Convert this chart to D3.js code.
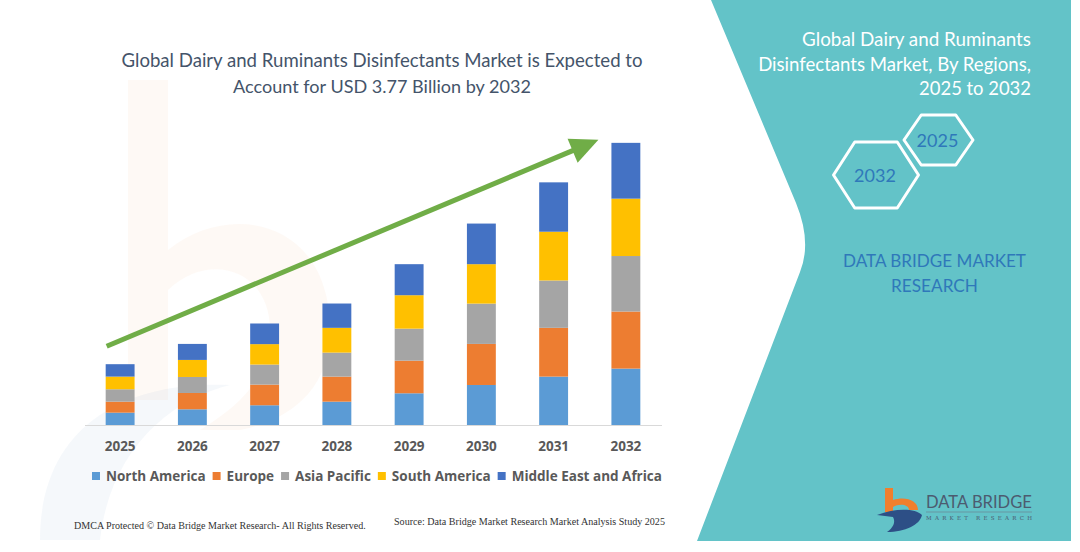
<!DOCTYPE html>
<html>
<head>
<meta charset="utf-8">
<script src="https://cdn.jsdelivr.net/npm/d3@7"></script>
<style>
  html, body { margin: 0; padding: 0; background: #fff; }
  svg { display: block; }
</style>
</head>
<body>
<div id="chart"></div>
<script>
// ---- data (USD billion) ----
var years = ["2025", "2026", "2027", "2028", "2029", "2030", "2031", "2032"];
var regions = ["North America", "Europe", "Asia Pacific", "South America", "Middle East and Africa"];
var regionColors = ["#5B9BD5", "#ED7D31", "#A5A5A5", "#FFC000", "#4472C4"];

var northAmerica = [0.165, 0.210, 0.264, 0.312, 0.424, 0.535, 0.647, 0.754];
var europe       = [0.147, 0.218, 0.276, 0.335, 0.436, 0.549, 0.652, 0.763];
var asiaPacific  = [0.166, 0.214, 0.268, 0.321, 0.428, 0.539, 0.633, 0.742];
var southAmerica = [0.169, 0.228, 0.273, 0.331, 0.447, 0.527, 0.652, 0.767];
var middleEast   = [0.166, 0.214, 0.276, 0.325, 0.415, 0.543, 0.660, 0.746];

var titleLines = ["Global Dairy and Ruminants Disinfectants Market is Expected to",
                  "Account for USD 3.77 Billion by 2032"];
var sideLines = ["Global Dairy and Ruminants", "Disinfectants Market, By Regions,", "2025 to 2032"];

var W = 1080, H = 552;

var svg = d3.select("#chart").append("svg")
    .attr("width", W)
    .attr("height", H);

// shrink / grow a text's font size so it spans the given width
function fitWidth(sel, target) {
    sel.each(function() {
        var fs = parseFloat(d3.select(this).attr("font-size"));
        var len = this.getComputedTextLength();
        if (len > 0) d3.select(this).attr("font-size", (fs * target / len).toFixed(2));
    });
}

// ---- faint logo watermark behind the chart ----
var wm = svg.append("g").attr("class", "watermark");
wm.append("path")
    .attr("d", "M128,80 L168,80 L168,250 C230,200 330,220 330,330 C330,390 290,420 240,430 L200,430 C250,400 270,370 270,330 C270,270 210,250 168,290 L168,400 L128,400 Z")
    .attr("fill", "#F4B183").attr("opacity", 0.08);
wm.append("path")
    .attr("d", "M40,540 C40,430 120,380 230,385 C170,400 110,450 100,540 Z")
    .attr("fill", "#9DB7D5").attr("opacity", 0.1);

// ---- teal side panel ----
svg.append("path")
    .attr("d", "M711,0 L796,203 Q812,242 800,272 L697,541 L1071,541 L1071,0 Z")
    .attr("fill", "#63C3C8");

var side = svg.append("g").attr("class", "side");
side.selectAll("text.side-title")
    .data(sideLines)
    .enter()
    .append("text")
    .attr("class", "side-title")
    .attr("x", 1031)
    .attr("y", function(d, i) { return 46 + i * 24.5; })
    .attr("text-anchor", "end")
    .attr("font-family", "Lato")
    .attr("font-size", 18)
    .attr("fill", "#ffffff")
    .text(function(d) { return d; })
    .each(function(d, i) { fitWidth(d3.select(this), [229, 273, 112][i]); });

// hexagons with years
var hexes = [
    { label: "2025", cx: 938.5, cy: 140, w: 69, h: 50 },
    { label: "2032", cx: 876, cy: 175, w: 85, h: 66 }
];
var hexG = side.selectAll("g.hex")
    .data(hexes)
    .enter()
    .append("g")
    .attr("class", "hex");
hexG.append("path")
    .attr("d", function(d) {
        var pts = [
            [d.cx - d.w / 2, d.cy], [d.cx - d.w / 4, d.cy - d.h / 2], [d.cx + d.w / 4, d.cy - d.h / 2],
            [d.cx + d.w / 2, d.cy], [d.cx + d.w / 4, d.cy + d.h / 2], [d.cx - d.w / 4, d.cy + d.h / 2]
        ];
        return "M" + pts.join("L") + "Z";
    })
    .attr("fill", "none")
    .attr("stroke", "#ffffff")
    .attr("stroke-width", 3)
    .attr("stroke-linejoin", "round");
hexG.append("text")
    .attr("x", function(d) { return d.cx - 1; })
    .attr("y", function(d) { return d.cy + 7; })
    .attr("text-anchor", "middle")
    .attr("font-family", "Lato")
    .attr("font-size", 18)
    .attr("fill", "#2F78BA")
    .text(function(d) { return d.label; });

side.selectAll("text.dbmr")
    .data(["DATA BRIDGE MARKET", "RESEARCH"])
    .enter()
    .append("text")
    .attr("class", "dbmr")
    .attr("x", 934.5)
    .attr("y", function(d, i) { return 267 + i * 25; })
    .attr("text-anchor", "middle")
    .attr("font-family", "Lato")
    .attr("font-size", 18)
    .attr("fill", "#2F78BA")
    .text(function(d) { return d; })
    .each(function(d, i) { fitWidth(d3.select(this), [183, 87][i]); });

// logo bottom right
var logo = svg.append("g").attr("class", "logo");
logo.append("path")
    .attr("d", "M885,488 L893,488 L893,500 C905,496 918,500 918,510 L909,510 C909,505 900,503 893,507 L893,512 L885,512 Z")
    .attr("fill", "#F07F2D");
logo.append("path")
    .attr("d", "M877,515 C895,508 915,508 922,515 C920,525 905,532 887,532 C893,528 896,522 893,517 Z")
    .attr("fill", "#2D4F86");
logo.append("text")
    .attr("x", 926).attr("y", 508)
    .attr("font-family", "Lato").attr("font-size", 18)
    .attr("fill", "#4C5B70")
    .text("DATA BRIDGE")
    .call(fitWidth, 106);
logo.append("line")
    .attr("x1", 926).attr("x2", 1032).attr("y1", 512).attr("y2", 512)
    .attr("stroke", "#6b7b8c").attr("stroke-width", 0.6);
logo.append("text")
    .attr("x", 926).attr("y", 520)
    .attr("font-family", "DejaVu Serif").attr("font-size", 5.5)
    .attr("textLength", 106).attr("lengthAdjust", "spacing")
    .attr("fill", "#4C5B70")
    .text("MARKET RESEARCH");

// ---- title ----
svg.selectAll("text.title")
    .data(titleLines)
    .enter()
    .append("text")
    .attr("class", "title")
    .attr("x", 382)
    .attr("y", function(d, i) { return 67 + i * 26; })
    .attr("text-anchor", "middle")
    .attr("font-family", "Lato")
    .attr("font-size", 18)
    .attr("fill", "#44546A")
    .text(function(d) { return d; })
    .each(function(d, i) { fitWidth(d3.select(this), [521, 298][i]); });

// ---- stacked bars ----
var table = years.map(function(yr, i) {
    return {
        year: yr,
        "North America": northAmerica[i],
        "Europe": europe[i],
        "Asia Pacific": asiaPacific[i],
        "South America": southAmerica[i],
        "Middle East and Africa": middleEast[i]
    };
});
var stacked = d3.stack().keys(regions)(table);
var totals = table.map(function(d) { return d3.sum(regions, function(k) { return d[k]; }); });

var x = d3.scaleBand()
    .domain(years)
    .range([84, 662])
    .paddingInner(0.6)
    .paddingOuter(0.3);

var y = d3.scaleLinear()
    .domain([0, 3.77])
    .range([425, 143]);

var color = d3.scaleOrdinal().domain(regions).range(regionColors);

svg.append("g")
    .attr("class", "bars")
    .selectAll("g")
    .data(stacked)
    .enter()
    .append("g")
    .attr("fill", function(d) { return color(d.key); })
    .selectAll("rect")
    .data(function(d) { return d; })
    .enter()
    .append("rect")
    .attr("x", function(d) { return x(d.data.year); })
    .attr("y", function(d) { return y(d[1]); })
    .attr("width", x.bandwidth())
    .attr("height", function(d) { return y(d[0]) - y(d[1]); });

// baseline
svg.append("line")
    .attr("x1", 85).attr("x2", 662)
    .attr("y1", y(0) + 0.5).attr("y2", y(0) + 0.5)
    .attr("stroke", "#D9D9D9").attr("stroke-width", 1);

// year labels
var xAxis = svg.append("g")
    .attr("transform", "translate(0," + y(0) + ")")
    .call(d3.axisBottom(x).tickSize(0).tickPadding(16));
xAxis.select(".domain").remove();
xAxis.selectAll("text")
    .attr("font-family", "Open Sans")
    .attr("font-weight", "bold")
    .attr("font-size", 13.5)
    .attr("fill", "#595959");

// ---- growth arrow ----
var a0 = [x(years[0]) + 1, y(totals[0]) - 18];
var a1 = [x(years[years.length - 1]) - 13, y(totals[totals.length - 1]) - 3];
var dx = a1[0] - a0[0], dy = a1[1] - a0[1];
var len = Math.sqrt(dx * dx + dy * dy);
var ux = dx / len, uy = dy / len;
var headLen = 28, headHalf = 13;
var base = [a1[0] - ux * headLen, a1[1] - uy * headLen];
svg.append("line")
    .attr("x1", a0[0]).attr("y1", a0[1])
    .attr("x2", base[0] + ux * 2).attr("y2", base[1] + uy * 2)
    .attr("stroke", "#70AD47")
    .attr("stroke-width", 5);
svg.append("path")
    .attr("d", "M" + a1[0] + "," + a1[1] +
        "L" + (base[0] - uy * headHalf) + "," + (base[1] + ux * headHalf) +
        "L" + (base[0] + uy * headHalf) + "," + (base[1] - ux * headHalf) + "Z")
    .attr("fill", "#70AD47");

// ---- legend ----
var legend = svg.append("g").attr("class", "legend");
var lx = 92;
regions.forEach(function(r, i) {
    legend.append("rect")
        .attr("x", lx).attr("y", 472)
        .attr("width", 8).attr("height", 8)
        .attr("fill", regionColors[i]);
    var t = legend.append("text")
        .attr("x", lx + 14).attr("y", 481)
        .attr("font-family", "Open Sans")
        .attr("font-weight", "bold")
        .attr("font-size", 13.5)
        .attr("fill", "#595959")
        .text(r);
    lx += 14 + t.node().getComputedTextLength() + 7;
});

// ---- footer ----
svg.append("text")
    .attr("x", 74).attr("y", 529)
    .attr("font-family", "Liberation Serif")
    .attr("font-size", 10)
    .attr("fill", "#333")
    .text("DMCA Protected \u00A9 Data Bridge Market Research-  All Rights Reserved.")
    .call(fitWidth, 292);
svg.append("text")
    .attr("x", 394).attr("y", 525)
    .attr("font-family", "Liberation Serif")
    .attr("font-size", 10)
    .attr("fill", "#333")
    .text("Source: Data Bridge Market Research  Market Analysis Study 2025")
    .call(fitWidth, 271);
</script>
</body>
</html>
